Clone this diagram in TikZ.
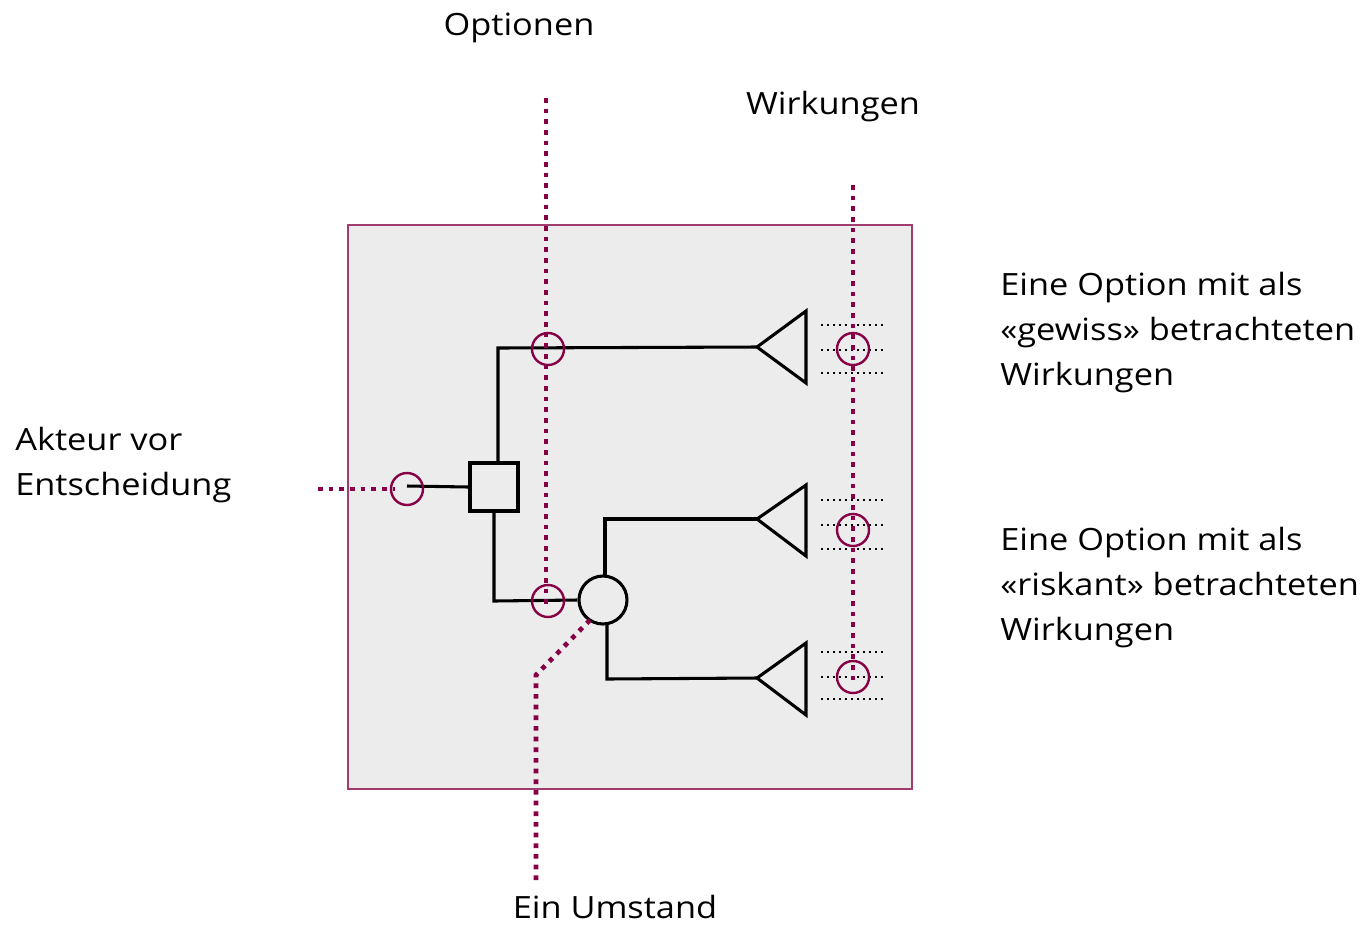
\documentclass[tikz,border=0pt]{standalone}
\usepackage{fontspec}
\setmainfont{Open Sans}[FakeStretch=1.12]
\definecolor{pur}{RGB}{135,0,70}
\definecolor{bord}{RGB}{160,60,110}
\definecolor{bg}{RGB}{236,236,236}
\tikzset{
  pdot/.style={pur,line width=3.5pt,dash pattern=on 3.5pt off 4.5pt},
  bdot/.style={black,line width=1.5pt,dash pattern=on 1.5pt off 3pt},
  bl/.style={black,line width=2.3pt},
  pc/.style={circle,draw=pur,line width=1.8pt,minimum size=24pt,inner sep=0pt},
  lbl/.style={font=\fontsize{23}{33.75}\selectfont,inner sep=0pt},
}
\begin{document}
\begin{tikzpicture}[x=0.75pt,y=-0.75pt]
\useasboundingbox (0,0) rectangle (1368,926);
\fill[white] (0,0) rectangle (1368,926);
\draw[fill=bg,draw=bord,line width=1pt] (348,225) rectangle (912,789);
% coordinates
\coordinate (o1) at (546,98);
\coordinate (w1) at (853,185);
\coordinate (l1) at (318,489);
\coordinate (u1) at (536,880);
\coordinate (u2) at (536,675);
% black structure
\node[draw,bl,minimum size=36pt,inner sep=0pt] (sq) at (494,487) {};
\node[circle,draw,bl,minimum size=36pt,inner sep=0pt] (ch) at (603,600) {};
\coordinate (t1) at (757,347);
\coordinate (t2) at (757,519);
\coordinate (t3) at (757,678);
\draw[bl,line join=miter] (t1) -- (806,311) -- (806,383) -- cycle;
\draw[bl,line join=miter] (t2) -- (806,485) -- (806,556) -- cycle;
\draw[bl,line join=miter] (t3) -- (806,643) -- (806,715) -- cycle;
\draw[bl] (407,486) -- (sq.west);
\draw[bl] (498,463) -- (498,348) -- (t1);
\draw[bl] (494,511) -- (494,601) -- (ch.west);
\draw[bl] (605,576) -- (605,519) -- (t2);
\draw[bl] (607,624) -- (607,679) -- (t3);
% black dotted effect lines
\foreach \y in {325,350,373,500,525,549,652,677,699}{
  \draw[bdot] (821,\y) -- (883,\y);
}
% purple dotted lines
\node[pc] (c0) at (407,489) {};
\node[pc] (c1) at (548,349) {};
\node[pc] (c2) at (548,601) {};
\node[pc] (c3) at (853,349) {};
\node[pc] (c4) at (853,530) {};
\node[pc] (c5) at (853,677) {};
\draw[pdot] (o1) -- (546,604);
\draw[pdot] (w1) -- (853,680);
\draw[pdot] (l1) -- (395,489);
\draw[pdot] (u1) -- (u2) -- (590,620);
% labels
\node[lbl] (tOpt) at (519,28) {Optionen};
\node[lbl] (tWir) at (833,107) {Wirkungen};
\node[lbl,anchor=west,align=left] (tAkt) at (15,465) {Akteur vor\\Entscheidung};
\node[lbl,anchor=west,align=left] (tG) at (1000,333) {Eine Option mit als\\«gewiss» betrachteten\\Wirkungen};
\node[lbl,anchor=west,align=left] (tR) at (1000,588) {Eine Option mit als\\«riskant» betrachteten\\Wirkungen};
\node[lbl] (tUm) at (615,907) {Ein Umstand};
\end{tikzpicture}
\end{document}
